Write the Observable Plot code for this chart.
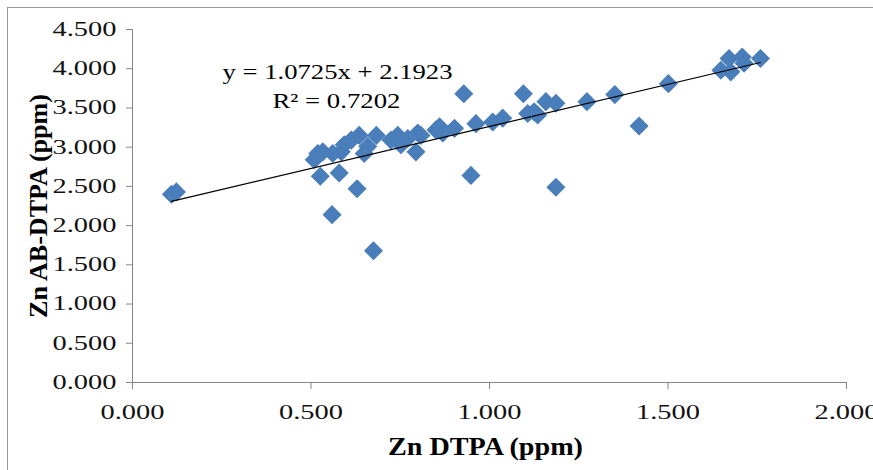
<!DOCTYPE html>
<html>
<head>
<meta charset="utf-8">
<script src="https://cdn.jsdelivr.net/npm/d3@7"></script>
<script src="https://cdn.jsdelivr.net/npm/@observablehq/plot@0.6"></script>
<style>
  html, body { margin: 0; padding: 0; background: #fff; overflow: hidden; }
  #wrap { position: relative; width: 873px; height: 470px; overflow: hidden; }
  #frame { position: absolute; left: 7px; top: 7px; width: 1000px; height: 1000px;
           border: 1px solid #9a9a9a; pointer-events: none; }
  #chart { position: absolute; left: 0; top: 0; }
</style>
</head>
<body>
<div id="wrap"><div id="chart"></div><div id="frame"></div></div>
<script>
// Zn DTPA (ppm)
const znDTPA = [0.109, 0.123, 0.509, 0.519, 0.526, 0.533, 0.559, 0.561, 0.579, 0.585,
  0.593, 0.613, 0.629, 0.635, 0.649, 0.659, 0.675, 0.683, 0.724, 0.743,
  0.752, 0.771, 0.794, 0.799, 0.808, 0.850, 0.860, 0.869, 0.902, 0.928,
  0.948, 0.962, 1.009, 1.037, 1.095, 1.107, 1.125, 1.135, 1.158, 1.186,
  1.186, 1.273, 1.351, 1.419, 1.501, 1.648, 1.676, 1.671, 1.708, 1.713, 1.759];
// Zn AB-DTPA (ppm)
const znABDTPA = [2.40, 2.43, 2.84, 2.92, 2.63, 2.94, 2.14, 2.92, 2.67, 2.94,
  3.03, 3.09, 2.47, 3.15, 2.92, 3.01, 1.68, 3.15, 3.09, 3.15,
  3.03, 3.11, 2.94, 3.18, 3.15, 3.22, 3.26, 3.18, 3.24, 3.68,
  2.64, 3.30, 3.32, 3.37, 3.68, 3.43, 3.45, 3.41, 3.58, 3.56,
  2.49, 3.58, 3.67, 3.27, 3.81, 3.98, 3.96, 4.13, 4.15, 4.07, 4.13];
const xTicks = [0, 0.5, 1, 1.5, 2];
const yTicks = [0, 0.5, 1, 1.5, 2, 2.5, 3, 3.5, 4, 4.5];
const slope = 1.0725;
const intercept = 2.1923;
const equationText = "y = 1.0725x + 2.1923";
const r2Text = "R² = 0.7202";
const xTitle = "Zn DTPA (ppm)";
const yTitle = "Zn AB-DTPA (ppm)";

const data = znDTPA.map((x, i) => ({x, y: znABDTPA[i]}));
const fit = [d3.min(znDTPA), d3.max(znDTPA)].map(x => ({x, y: slope * x + intercept}));
const fmt = d3.format(".3f");

const chart = Plot.plot({
  width: 873,
  height: 470,
  marginLeft: 132,
  marginRight: 27,
  marginTop: 29,
  marginBottom: 88,
  style: {fontFamily: "'Liberation Serif', 'Times New Roman', serif", background: "#fff"},
  x: {domain: [0, 2]},
  y: {domain: [0, 4.5]},
  marks: [
    Plot.axisX({ticks: xTicks, tickFormat: fmt, tickSize: 7, tickPadding: 15, fontSize: 20,
      stroke: "#868686", fill: "#111", label: null}),
    Plot.axisY({ticks: yTicks, tickFormat: fmt, tickSize: 6, tickPadding: 10, fontSize: 20,
      stroke: "#868686", fill: "#111", label: null}),
    Plot.ruleX([0], {stroke: "#868686"}),
    Plot.ruleY([0], {stroke: "#868686"}),
    Plot.dot(data, {x: "x", y: "y", symbol: "diamond2", r: 8.6, fill: "#4a7ebb"}),
    Plot.line(fit, {x: "x", y: "y", stroke: "#000", strokeWidth: 1.2}),
    Plot.text([equationText], {frameAnchor: "top-left", dx: 205, dy: 35, text: d => d,
      textAnchor: "middle", fontSize: 21, fill: "#000"}),
    Plot.text([r2Text], {frameAnchor: "top-left", dx: 204, dy: 64, text: d => d,
      textAnchor: "middle", fontSize: 21, fill: "#000"}),
    Plot.text([xTitle], {frameAnchor: "bottom", dx: -4, dy: 72, text: d => d,
      textAnchor: "middle", fontSize: 25, fontWeight: "bold", fill: "#000"}),
    Plot.text([yTitle], {frameAnchor: "left", dx: -94, dy: 0, text: d => d, rotate: -90,
      textAnchor: "middle", fontSize: 25, fontWeight: "bold", fill: "#000"})
  ]
});
document.getElementById("chart").appendChild(chart);

// widen glyphs to match the reference's horizontally stretched text
const targets = new Map([[equationText, 230], [r2Text, 128], [xTitle, 195], [yTitle, 224]]);
chart.querySelectorAll("text").forEach(t => {
  const s = t.textContent;
  let w = null;
  if (targets.has(s)) w = targets.get(s);
  else if (/^\d\.\d{3}$/.test(s)) w = 64;
  if (w) {
    t.setAttribute("textLength", w);
    t.setAttribute("lengthAdjust", "spacingAndGlyphs");
  }
});
</script>
</body>
</html>
